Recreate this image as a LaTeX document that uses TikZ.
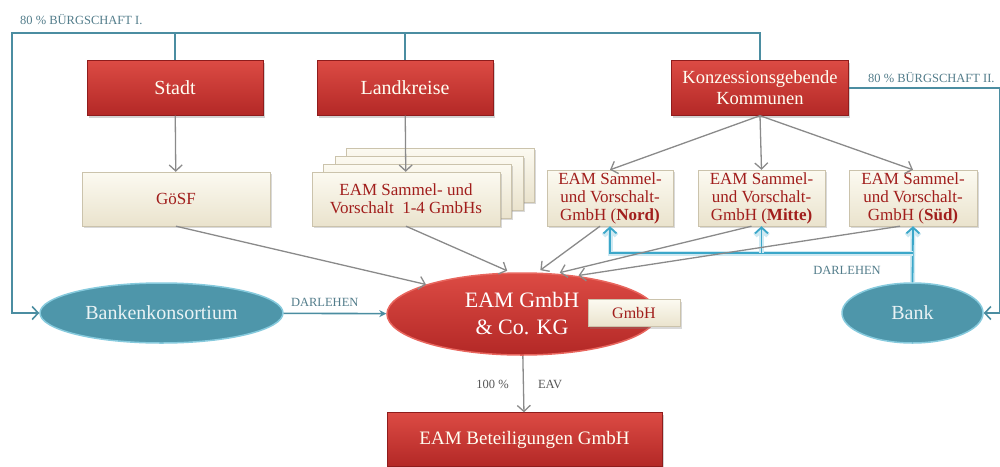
\documentclass[tikz,border=0pt]{standalone}
\usepackage{fontspec}
\setmainfont{Liberation Serif}
\usetikzlibrary{shapes.geometric, arrows, arrows.meta, positioning, calc, shadows}

\definecolor{redtop}{HTML}{DC4B44}
\definecolor{redbot}{HTML}{B32826}
\definecolor{redline}{HTML}{8F1C1C}
\definecolor{redrim}{HTML}{E8665E}
\definecolor{creamtop}{HTML}{FCFAF1}
\definecolor{creambot}{HTML}{EAE3CD}
\definecolor{creamline}{HTML}{CBC3AC}
\definecolor{darkred}{HTML}{A11E1C}
\definecolor{tealline}{HTML}{4B8DA1}
\definecolor{tealfill}{HTML}{4E96AA}
\definecolor{tealedge}{HTML}{86CADD}
\definecolor{loanblue}{HTML}{3BA7C9}
\definecolor{labeltext}{HTML}{527C8A}
\definecolor{arrowgray}{HTML}{8A8A8A}
\definecolor{graytext}{HTML}{555555}

\tikzset{
  redbox/.style={rectangle, top color=redtop, bottom color=redbot, draw=redline,
    text=white!95!yellow, font=\fontsize{20}{22}\selectfont, align=center, inner sep=2pt,
    drop shadow={opacity=0.35, shadow xshift=1.5pt, shadow yshift=-2pt}},
  creambox/.style={rectangle, top color=creamtop, bottom color=creambot, draw=creamline,
    text=darkred, font=\fontsize{17}{18}\selectfont, align=center, inner sep=2pt,
    drop shadow={opacity=0.3, shadow xshift=1.5pt, shadow yshift=-2pt}},
  bankell/.style={ellipse, fill=tealfill, draw=tealedge, line width=1.5pt,
    text=white!88!tealfill, font=\fontsize{20}{22}\selectfont, inner sep=0pt},
  eamell/.style={ellipse, top color=redtop, bottom color=redbot, draw=redrim, line width=1.5pt,
    text=white, font=\fontsize{22}{27}\selectfont, align=center, inner sep=0pt},
  guarline/.style={draw=tealline, line width=1.6pt},
  flowarrow/.style={-{Straight Barb[length=6pt,width=13pt]}, draw=arrowgray, line width=1.3pt},
  loanline/.style={-{Straight Barb[length=6pt,width=13pt]}, draw=loanblue, line width=1.8pt,
    preaction={draw=loanblue!25, line width=5pt}},
  lbl/.style={text=labeltext, font=\fontsize{12.5}{14}\selectfont, inner sep=0pt},
  grlbl/.style={text=graytext, font=\fontsize{12.5}{14}\selectfont, inner sep=0pt},
}

\begin{document}
\begin{tikzpicture}[x=1pt, y=-1pt]
\useasboundingbox (0,0) rectangle (1000,466);

% top row
\node[redbox, minimum width=176pt, minimum height=55pt] (stadt) at (175,88) {Stadt};
\node[redbox, minimum width=176pt, minimum height=55pt] (landkreise) at (405,88) {Landkreise};
\node[redbox, minimum width=177pt, minimum height=55pt, font=\fontsize{18.5}{21}\selectfont] (kommunen) at (760,88) {Konzessionsgebende\\Kommunen};

% middle row
\node[creambox, minimum width=188pt, minimum height=54pt] (goesf) at (176,199) {GöSF};
\foreach \i in {3,2,1}
  \node[creambox, minimum width=188pt, minimum height=54pt] (stack\i) at ({406+11.5*\i},{199-8*\i}) {};
\node[creambox, minimum width=188pt, minimum height=54pt] (sammel) at (406,199) {EAM Sammel- und\\Vorschalt~ 1-4 GmbHs};
\node[creambox, minimum width=126pt, minimum height=56pt] (nord) at (610,198) {EAM Sammel-\\und Vorschalt-\\GmbH (\textbf{Nord)}};
\node[creambox, minimum width=127pt, minimum height=56pt] (mitte) at (761.5,198) {EAM Sammel-\\und Vorschalt-\\GmbH (\textbf{Mitte)}};
\node[creambox, minimum width=128pt, minimum height=56pt] (sued) at (913,198) {EAM Sammel-\\und Vorschalt-\\GmbH (\textbf{Süd)}};

% lower row
\node[bankell, minimum width=243pt, minimum height=60pt] (konsortium) at (161.5,313) {Bankenkonsortium};
\node[eamell, minimum width=270pt, minimum height=82pt] (eam) at (522,314) {EAM GmbH\\\& Co. KG};
\node[creambox, minimum width=92pt, minimum height=27pt, font=\fontsize{16}{17}\selectfont] (gmbh) at (634,313) {GmbH};
\node[bankell, minimum width=141pt, minimum height=60pt] (bank) at (912.5,313) {Bank};
\node[redbox, minimum width=275pt, minimum height=54pt, font=\fontsize{19}{20}\selectfont] (beteiligung) at (524.5,439.5) {EAM Beteiligungen GmbH};

% Buergschaften
\coordinate (tl) at (12,33);
\coordinate (tr) at (999.5,313);
\draw[guarline, -{Straight Barb[length=6pt,width=13pt]}] (kommunen.north) |- (tl) |- (konsortium.west);
\draw[guarline] (stadt.north) -- (stadt.north |- tl);
\draw[guarline] (landkreise.north) -- (landkreise.north |- tl);
\draw[guarline, -{Straight Barb[length=6pt,width=13pt]}] (kommunen.east) -| (tr) -- (bank.east);
\node[lbl, anchor=west] (buerg1) at (20,20) {80 \% BÜRGSCHAFT I.};
\node[lbl, anchor=west] (buerg2) at (868,78) {80 \% BÜRGSCHAFT II.};

% Darlehen
\coordinate (loanjoint) at (912.5,253);
\draw[loanline] (bank.north) -- (sued.south);
\draw[loanline] (loanjoint) -| (nord.south);
\draw[loanline] (mitte.south |- loanjoint) -- (mitte.south);
\node[lbl] (darlehen2) at (847,270) {DARLEHEN};
\draw[guarline, -{Stealth[length=7pt,width=7pt]}] (konsortium) -- node[lbl, above=6pt, pos=0.4] (darlehen1) {DARLEHEN} (eam);

% Beteiligungen
\draw[flowarrow] (stadt) -- (goesf);
\draw[flowarrow] (landkreise) -- (sammel);
\draw[flowarrow] (kommunen.south) -- (nord.north);
\draw[flowarrow] (kommunen.south) -- (mitte.north);
\draw[flowarrow] (kommunen.south) -- (sued.north);
\draw[flowarrow] (goesf.south) -- (eam.north west);
\draw[flowarrow, shorten >=4pt] (sammel.south) -- (eam.105);
\draw[flowarrow, shorten >=4pt] ($(nord.south)+(-10,0)$) -- (eam.70);
\draw[flowarrow, shorten >=4pt] ($(mitte.south)+(-10,0)$) -- (eam.50);
\draw[flowarrow, shorten >=2pt] ($(sued.south)+(-13,0)$) -- (eam.35);
\draw[flowarrow] (eam) -- node[grlbl, left=14pt] (anteil) {100 \%} node[grlbl, right=14pt] (eav) {EAV} (beteiligung);
\end{tikzpicture}
\end{document}
